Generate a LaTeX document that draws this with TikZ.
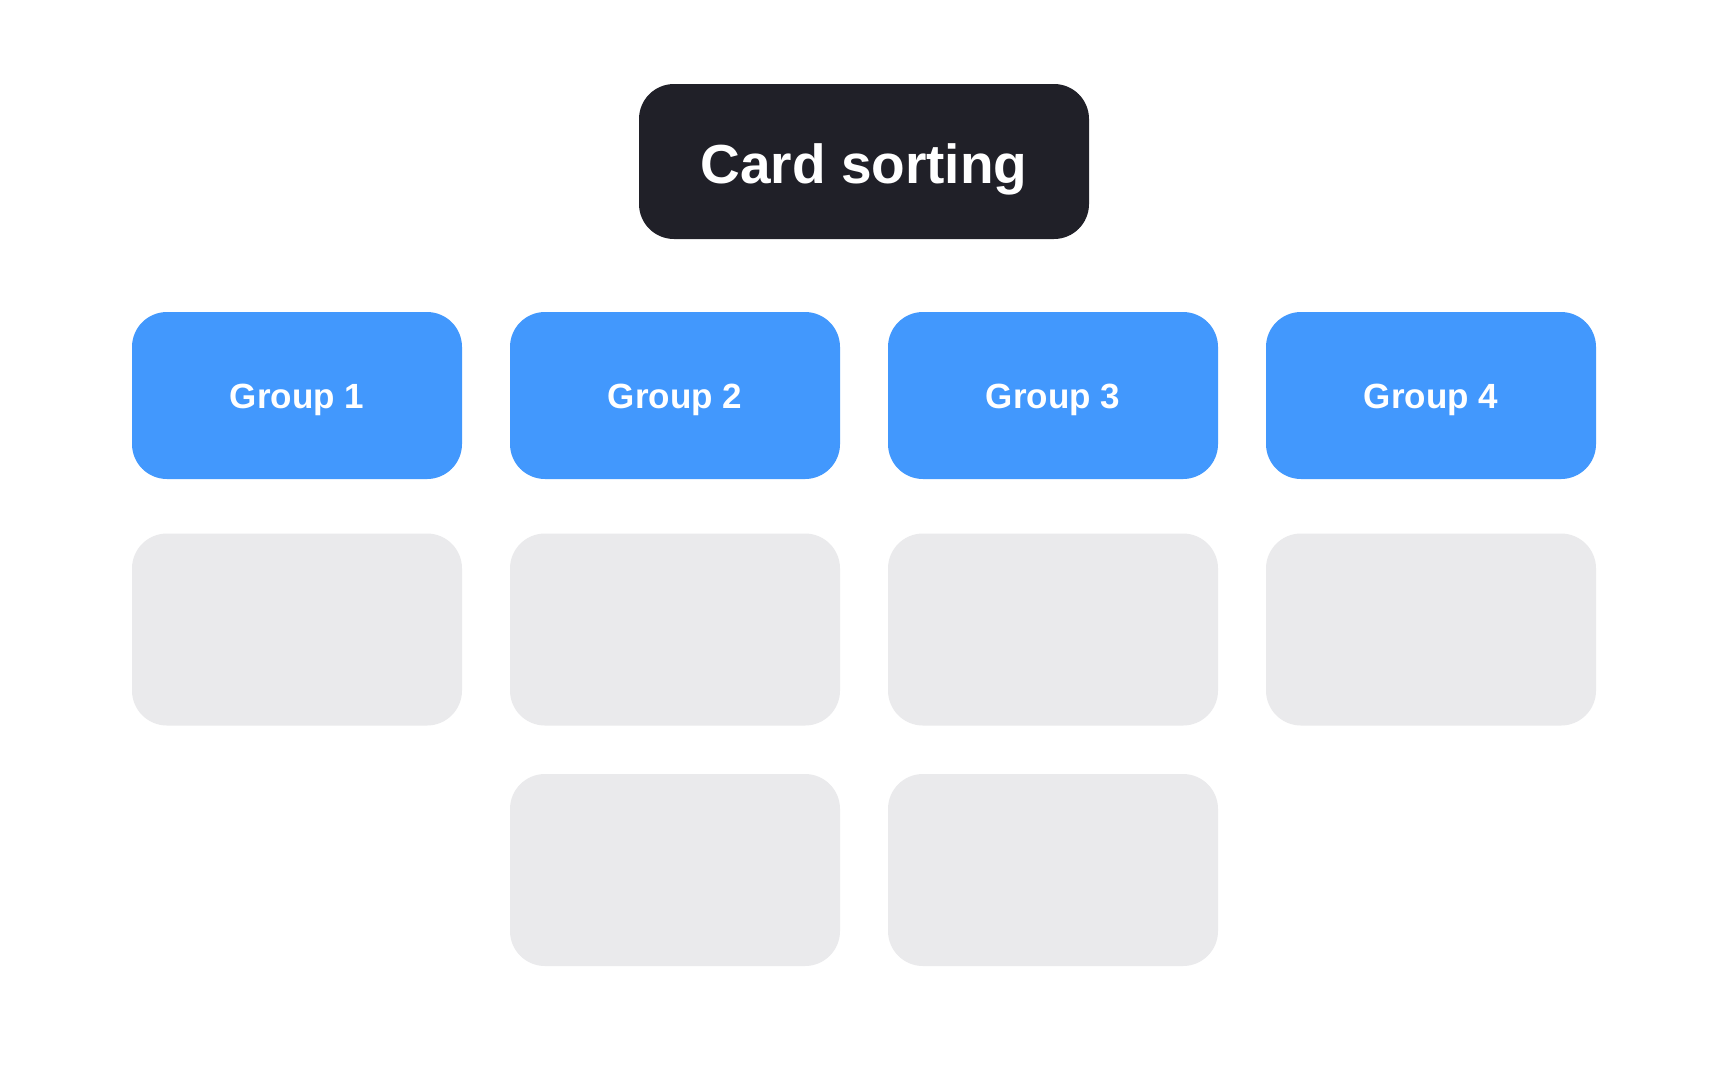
\documentclass[tikz,border=0pt]{standalone}
\usepackage{fontspec}
\setmainfont{Liberation Sans}
\definecolor{darkbox}{RGB}{32,32,40}
\definecolor{bluebox}{RGB}{66,152,253}
\definecolor{graybox}{RGB}{234,234,236}
\tikzset{
  card/.style={rounded corners=35pt, inner sep=0pt, draw=none},
  titlebox/.style={card, fill=darkbox, text=white, minimum width=450pt, minimum height=155pt,
    text height=39pt, text depth=0pt,
    font=\fontsize{55}{60}\selectfont\bfseries},
  groupbox/.style={card, fill=bluebox, text=white, minimum width=330pt, minimum height=167pt,
    text height=26pt, text depth=0pt,
    font=\fontsize{35}{42}\selectfont\bfseries},
  slotbox/.style={card, fill=graybox, minimum width=330pt, minimum height=192pt},
}
\begin{document}
\begin{tikzpicture}[x=1pt,y=-1pt]
\useasboundingbox[fill=white] (0,0) rectangle (1728,1080);
\node[titlebox] (title) at (864,161.5) {\raisebox{-2.5pt}{Card sorting}};
\node[groupbox] (g1) at (297,395.5) {Group 1};
\node[groupbox] (g2) at (675,395.5) {Group 2};
\node[groupbox] (g3) at (1053,395.5) {Group 3};
\node[groupbox] (g4) at (1431,395.5) {Group 4};
\node[slotbox] (s11) at (297,629.5) {};
\node[slotbox] (s21) at (675,629.5) {};
\node[slotbox] (s31) at (1053,629.5) {};
\node[slotbox] (s41) at (1431,629.5) {};
\node[slotbox] (s22) at (675,870) {};
\node[slotbox] (s32) at (1053,870) {};
\end{tikzpicture}
\end{document}
